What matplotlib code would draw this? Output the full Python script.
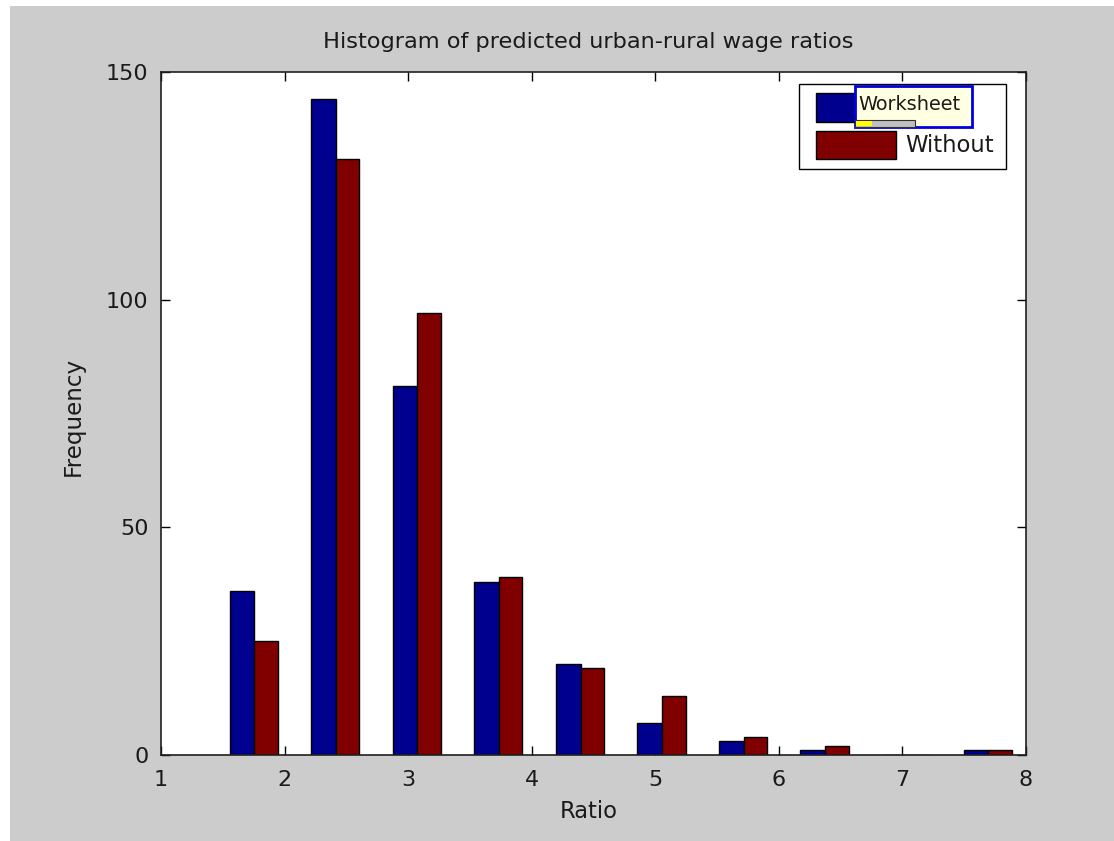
import matplotlib
matplotlib.use("Agg")
import matplotlib.pyplot as plt
from matplotlib.patches import Rectangle
import numpy as np

# ---- data ----
bin_centers = [1.755, 2.415, 3.075, 3.735, 4.395, 5.055, 5.715, 6.375, 7.035, 7.695]
worksheet = [36, 144, 81, 38, 20, 7, 3, 1, 0, 1]
without = [25, 131, 97, 39, 19, 13, 4, 2, 0, 1]
series_names = ["Worksheet", "Without"]
x_ticks = [1, 2, 3, 4, 5, 6, 7, 8]
y_ticks = [0, 50, 100, 150]

W, H = 1114, 841
BG = "#cccccc"
BLUE = "#00008f"
RED = "#800000"
FONT = "DejaVu Sans"
TXT = "#1a1a1a"

fig = plt.figure(figsize=(W / 100, H / 100), dpi=100, facecolor="white")

def fx(x):
    return x / W

def fy(y):
    return 1 - y / H

# grey canvas with thin white border at top/left
fig.patches.append(Rectangle((fx(10), 0), 1 - fx(10), fy(6), transform=fig.transFigure,
                             facecolor=BG, edgecolor="none", zorder=-10))

ax = fig.add_axes([fx(161), fy(755), fx(1026) - fx(161), fy(72) - fy(755)])
ax.set_facecolor("white")

bw = 0.2
ax.bar(np.array(bin_centers) - bw / 2, worksheet, width=bw, color=BLUE,
       edgecolor="black", linewidth=1.0, zorder=2)
ax.bar(np.array(bin_centers) + bw / 2 - 0.005, without, width=bw - 0.01, color=RED,
       edgecolor="black", linewidth=1.0, zorder=2)

ax.set_xlim(1, 8)
ax.set_ylim(0, 150)
ax.set_xticks(x_ticks)
ax.set_yticks(y_ticks)
ax.tick_params(direction="in", length=6.5, width=1.0, top=True, right=True,
               labelsize=16, colors="black", labelcolor=TXT)
ax.tick_params(axis="x", pad=10.5)
ax.tick_params(axis="y", pad=9)
for lab in ax.get_xticklabels() + ax.get_yticklabels():
    lab.set_fontfamily(FONT)
for s in ax.spines.values():
    s.set_linewidth(1.2)
    s.set_color("#202020")

fig.text(fx(588), fy(42), "Histogram of predicted urban-rural wage ratios",
         ha="center", va="center", fontsize=16.2, family=FONT, color=TXT)
fig.text(fx(589), fy(812), "Ratio", ha="center", va="center", fontsize=16.3,
         family=FONT, color=TXT)
fig.text(fx(73), fy(416), "Frequency", ha="center", va="center", rotation=90,
         fontsize=16.6, family=FONT, color=TXT)

# ---- legend (manual, MATLAB style) ----
def frect(x0, y0, x1, y1, **kw):
    r = Rectangle((fx(x0), fy(y1)), fx(x1) - fx(x0), fy(y0) - fy(y1),
                  transform=fig.transFigure, **kw)
    fig.patches.append(r)
    return r

frect(799, 84, 1006, 169, facecolor="white", edgecolor="black", linewidth=1.0, zorder=5)
frect(816, 93, 896, 122, facecolor=BLUE, edgecolor="black", linewidth=1.0, zorder=6)
frect(816, 131, 896, 159, facecolor=RED, edgecolor="black", linewidth=1.0, zorder=6)
fig.text(fx(905), fy(146), series_names[1], ha="left", va="center", fontsize=16.4,
         family=FONT, color=TXT, zorder=7)
# editing box over the first entry
frect(855, 86, 972, 127, facecolor="#ffffe1", edgecolor="#0000e0", linewidth=2.0, zorder=8)
frect(855, 120, 915, 127, facecolor="#c0c0c0", edgecolor="#303030", linewidth=0.8, zorder=9)
frect(856, 121, 872, 126, facecolor="#ffff00", edgecolor="none", zorder=10)
fig.text(fx(858), fy(104), series_names[0], ha="left", va="center", fontsize=13.9,
         family=FONT, color=TXT, zorder=11)

fig.savefig("out.png", dpi=100, facecolor=fig.get_facecolor())
